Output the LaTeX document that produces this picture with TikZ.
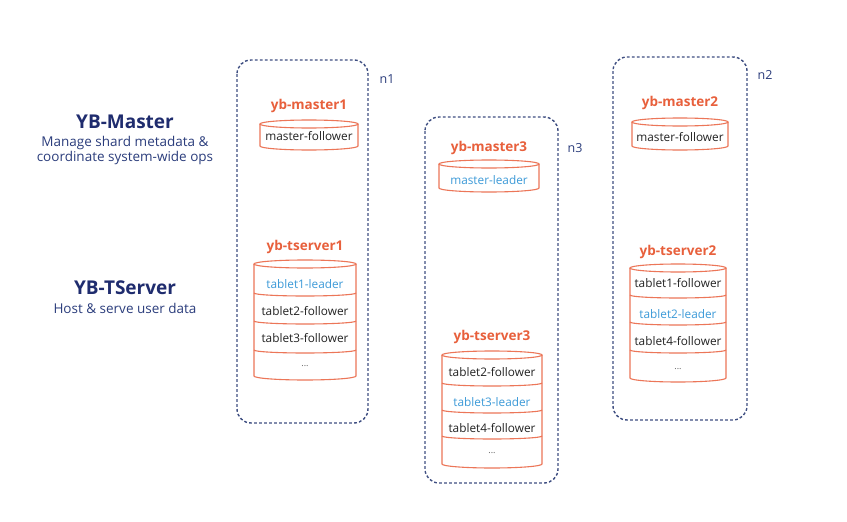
\documentclass[tikz,border=0pt]{standalone}
\usepackage{fontspec}
\setmainfont{Open Sans}
\definecolor{ybnavy}{HTML}{1F2C6E}
\definecolor{ybsub}{HTML}{2B3D7C}
\definecolor{yborange}{HTML}{E8603C}
\definecolor{ybline}{HTML}{EC7658}
\definecolor{ybblue}{HTML}{3C9AD8}
\definecolor{ybdash}{HTML}{3F4F82}
\definecolor{ybtext}{HTML}{222222}
\tikzset{
  nodebox/.style={draw=ybdash, line width=1.4pt, dash pattern=on 2.8pt off 2.2pt, rounded corners=14pt},
  cylline/.style={draw=ybline, line width=1.1pt},
  proc/.style={text=yborange, font=\fontsize{13.5}{15}\selectfont\bfseries, inner sep=0pt},
  slot/.style={text=ybtext, font=\fontsize{11.8}{13}\selectfont, inner sep=0pt},
  dots/.style={text=ybtext!70, font=\fontsize{9}{10}\selectfont, inner sep=0pt},
  lead/.style={text=ybblue, font=\fontsize{11.8}{13}\selectfont, inner sep=0pt},
  hostlbl/.style={text=ybsub, font=\fontsize{12.5}{14}\selectfont, inner sep=0pt},
  title/.style={text=ybnavy, font=\fontsize{19}{21}\selectfont\bfseries, inner sep=0pt},
  subt/.style={text=ybsub, font=\fontsize{13.5}{15.5}\selectfont, inner sep=0pt, align=center},
}
\newcommand{\dbcyl}[4]{%
  \draw[cylline] (#1-#4,-#2-4) -- (#1-#4,-#3+4) arc[start angle=180,end angle=360,x radius=#4pt,y radius=4pt] -- (#1+#4,-#2-4);
  \draw[cylline] (#1,-#2-4) ellipse[x radius=#4pt,y radius=4pt];}
\newcommand{\dbdiv}[3]{%
  \draw[cylline] (#1-#3,-#2+2) arc[start angle=180,end angle=360,x radius=#3pt,y radius=3pt];}
\begin{document}
\begin{tikzpicture}[x=1pt,y=1pt]
\useasboundingbox (0,0) rectangle (847,-522);
\fill[white] (0,0) rectangle (847,-522);

% left labels
\node[title] (ybm) at (125,-122) {YB-Master};
\node[subt] (ybmd) at (125,-150.5) {Manage shard metadata \&\\coordinate system-wide ops};
\node[title] (ybt) at (125,-288) {YB-TServer};
\node[subt] (ybtd) at (125,-308) {Host \& serve user data};

% host boxes
\draw[nodebox] (237,-60) rectangle (368,-423);
\draw[nodebox] (425,-117) rectangle (558,-483);
\draw[nodebox] (613,-57) rectangle (747,-420);
\node[hostlbl] (n1) at (387,-79) {n1};
\node[hostlbl] (n3) at (575,-148) {n3};
\node[hostlbl] (n2) at (765,-75) {n2};

% n1
\node[proc] (m1) at (309,-106) {yb-master1};
\dbcyl{309}{120}{150}{49}
\node[slot] (m1s) at (309,-136) {master-follower};
\node[proc] (t1) at (305,-247) {yb-tserver1};
\dbcyl{305}{260}{380}{51}
\dbdiv{305}{295}{51}
\dbdiv{305}{323}{51}
\dbdiv{305}{352}{51}
\node[lead] (t1a) at (305,-284) {tablet1-leader};
\node[slot] (t1b) at (305,-311) {tablet2-follower};
\node[slot] (t1c) at (305,-338) {tablet3-follower};
\node[dots] (t1d) at (305,-366) {...};

% n3
\node[proc] (m3) at (489,-148) {yb-master3};
\dbcyl{489}{160}{192}{50}
\node[lead] (m3s) at (489,-180) {master-leader};
\node[proc] (t3) at (492,-337) {yb-tserver3};
\dbcyl{492}{351}{468}{50}
\dbdiv{492}{385}{50}
\dbdiv{492}{412}{50}
\dbdiv{492}{438}{50}
\node[slot] (t3a) at (492,-372) {tablet2-follower};
\node[lead] (t3b) at (492,-402) {tablet3-leader};
\node[slot] (t3c) at (492,-428) {tablet4-follower};
\node[dots] (t3d) at (492,-453) {...};

% n2
\node[proc] (m2) at (680,-103) {yb-master2};
\dbcyl{680}{118}{150}{48}
\node[slot] (m2s) at (680,-137) {master-follower};
\node[proc] (t2) at (678,-252) {yb-tserver2};
\dbcyl{678}{264}{382}{48}
\dbdiv{678}{297}{48}
\dbdiv{678}{324}{48}
\dbdiv{678}{352}{48}
\node[slot] (t2a) at (678,-283) {tablet1-follower};
\node[lead] (t2b) at (678,-314) {tablet2-leader};
\node[slot] (t2c) at (678,-341) {tablet4-follower};
\node[dots] (t2d) at (678,-369) {...};
\end{tikzpicture}
\end{document}
